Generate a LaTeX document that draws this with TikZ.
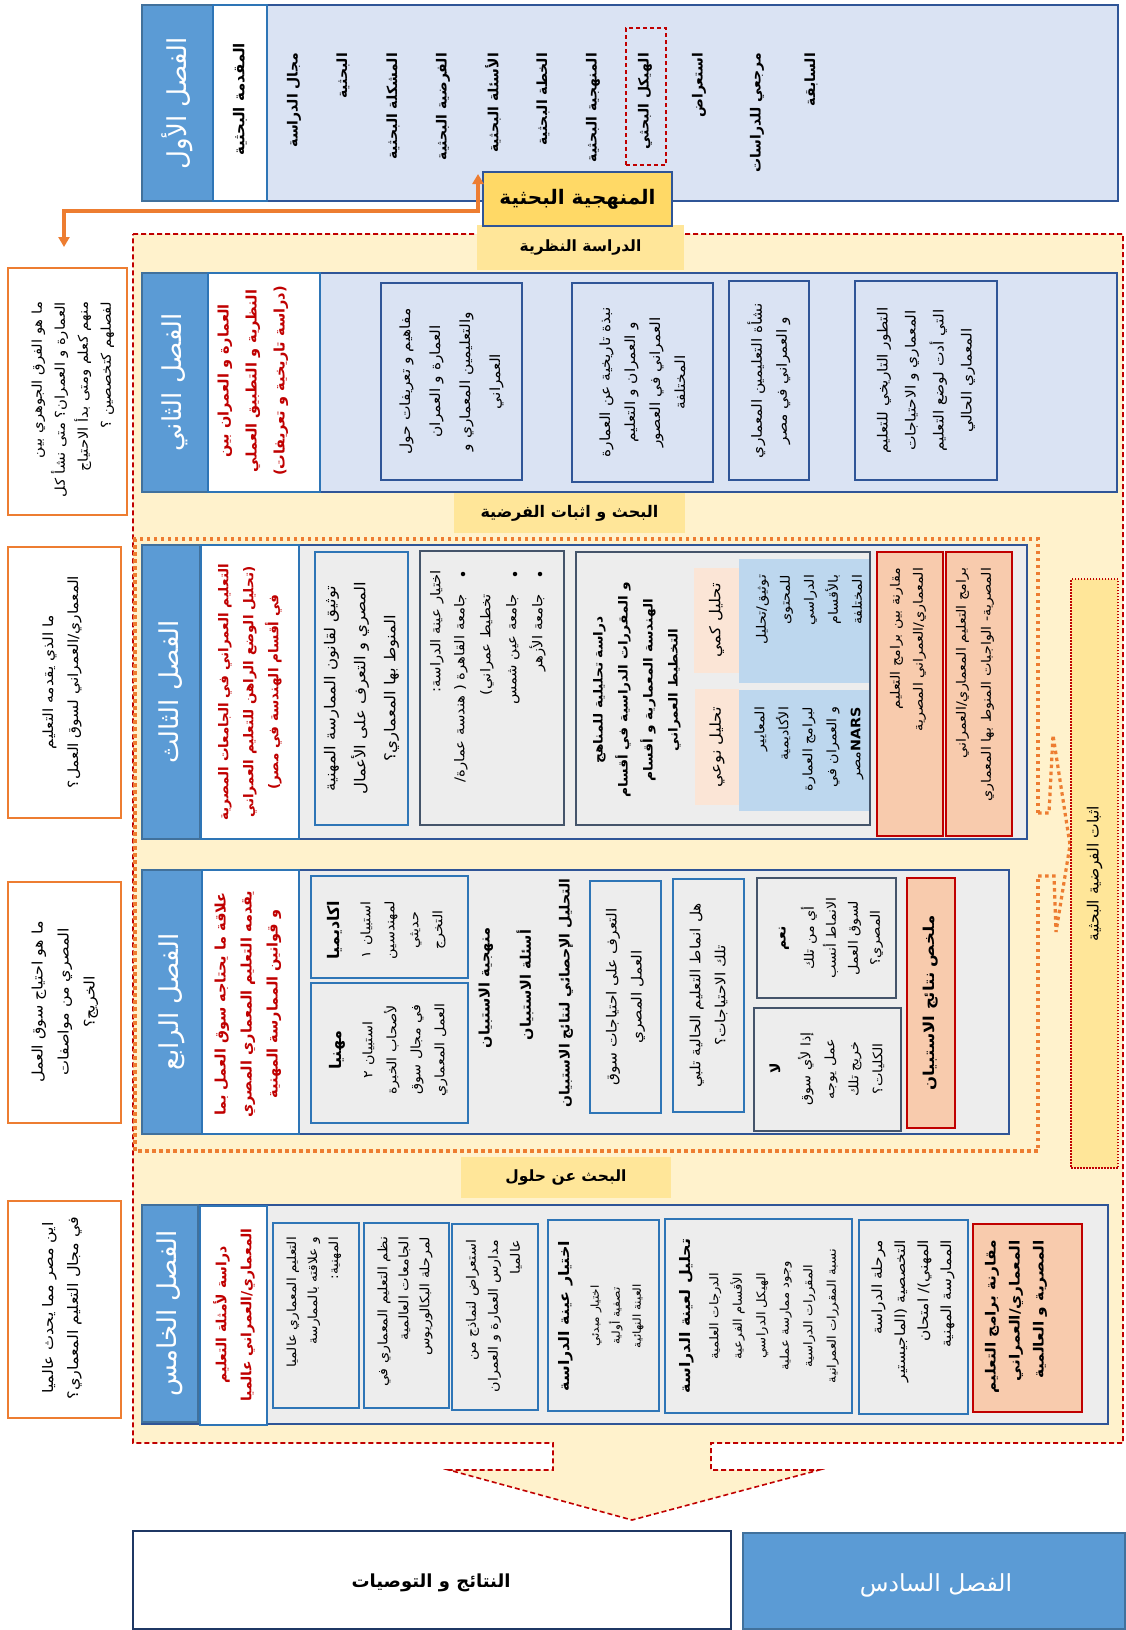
\documentclass[tikz,border=0pt]{standalone}
\usepackage{fontspec}
\usetikzlibrary{arrows.meta}
\TeXXeTstate=1
\newfontfamily\ar[Script=Arabic,FakeStretch=1.1]{DejaVu Sans}
\newfontfamily\arn[Script=Arabic]{DejaVu Sans}
\newcommand{\RL}[1]{\beginR #1\endR}
\newcommand{\fsz}[2]{\fontsize{#1}{#2}\selectfont}
\definecolor{hdr}{HTML}{5B9BD5}
\definecolor{hdrd}{HTML}{41719C}
\definecolor{lb}{HTML}{DAE3F3}
\definecolor{bd}{HTML}{2F5597}
\definecolor{bm}{HTML}{2E75B6}
\definecolor{sl}{HTML}{44546A}
\definecolor{gy}{HTML}{EDEDED}
\definecolor{pe}{HTML}{F8CBAD}
\definecolor{lpe}{HTML}{FBE5D6}
\definecolor{sky}{HTML}{BDD7EE}
\definecolor{rd}{HTML}{C00000}
\definecolor{yl}{HTML}{FFF2CC}
\definecolor{gd}{HTML}{FFE699}
\definecolor{gdd}{HTML}{FFD966}
\definecolor{og}{HTML}{ED7D31}
\definecolor{nv}{HTML}{1F3864}
\newcommand{\mybox}[6]{\node[#2,anchor=north west,inner sep=0pt,outer sep=0pt,minimum width=#5pt-#3pt,minimum height=#6pt-#4pt] (#1) at (#3,#4) {};}
\begin{document}
\begin{tikzpicture}[x=1pt,y=-1pt,
  tx/.style={rotate=90,inner sep=0pt,outer sep=0pt,align=center},
  ft/.style 2 args={font=\ar\fsz{#1}{#2}},
  ftb/.style 2 args={font=\ar\bfseries\fsz{#1}{#2}},
  fn/.style 2 args={font=\arn\fsz{#1}{#2}},
  fnb/.style 2 args={font=\arn\bfseries\fsz{#1}{#2}},
  hdrbox/.style={fill=hdr,draw=hdrd,line width=1.5pt},
  wcol/.style={fill=white,draw=bm,line width=1.2pt},
  ch1box/.style={fill=lb,draw=bd,line width=1.5pt},
  grbox/.style={fill=gy,draw=bd,line width=1.5pt},
  ibox/.style={draw=bm,line width=1.5pt},
  i2box/.style={draw=bd,line width=1.5pt},
  dbox/.style={draw=sl,line width=1.5pt},
  rbox/.style={fill=pe,draw=rd,line width=1.8pt},
  qbox/.style={fill=white,draw=og,line width=1.8pt},
  glabel/.style={fill=gd},
  htxt/.style={tx,text=white,font=\arn\fsz{26}{30}},
  rtxt/.style={tx,text=rd},
  item/.style={tx,anchor=east,font=\arn\bfseries\fsz{14}{18}},
  bullet/.style={circle,fill=black,inner sep=0pt,minimum size=4.5pt},
  odot/.style={og,line width=3.2pt,dash pattern=on 3.5pt off 3.5pt}
]
\useasboundingbox (0,0) rectangle (1126,1630);

% ---------- big yellow region with arrow ----------
\path[fill=yl,draw=rd,line width=1.6pt,dash pattern=on 5pt off 3pt]
 (133,234) -- (1123,234) -- (1123,1443) -- (711,1443) -- (711,1470) -- (819,1470)
 -- (632,1520) -- (449,1470) -- (553,1470) -- (553,1443) -- (133,1443) -- cycle;

% ---------- labels ----------
\mybox{lab1}{glabel}{477}{225}{684}{270}
\node[fnb={15.5}{18}] (lab1t) at (lab1.center) {\RL{الدراسة النظرية}};
\mybox{lab2}{glabel}{454}{493}{685}{533}
\node[fnb={16}{18}] (lab2t) at (lab2.center) {\RL{البحث و اثبات الفرضية}};
\mybox{lab3}{glabel}{461}{1157}{671}{1198}
\node[fnb={15.5}{18}] (lab3t) at (lab3.center) {\RL{البحث عن حلول}};

% ---------- orange dotted region ----------
\draw[odot] (1038,813) -- (1038,539) -- (135,539) -- (135,1151) -- (1038,1151) -- (1038,876);
\draw[odot] (1038,813) -- (1049,813) -- (1053,735) -- (1070,845) -- (1056,932) -- (1054,876) -- (1038,876);

% ---------- right strip ----------
\mybox{strip}{fill=gd,draw=rd,line width=1.6pt,dash pattern=on 1.5pt off 1.5pt}{1071}{579}{1118}{1168}
\node[tx,fn={15.5}{18}] (stript) at (strip.center) {\RL{اثبات الفرضية البحثية}};

% ---------- questions ----------
\mybox{q1}{qbox}{8}{268}{127}{515}
\node[tx,ft={13.5}{23},align=right,anchor=east] (q1t) at (73,302) {\RL{ما هو الفرق الجوهري بين}\\\RL{العمارة و العمران؟ متى نشأ كل}\\\RL{منهم كعلم ومتى بدأ الاحتياج}\\\RL{لفصلهم كتخصصين ؟}};
\mybox{q2}{qbox}{8}{547}{121}{818}
\node[tx,ft={14}{25}] (q2t) at (62,682) {\RL{ما الذي يقدمه التعليم}\\\RL{المعماري/العمراني لسوق العمل؟}};
\mybox{q3}{qbox}{8}{882}{121}{1123}
\node[tx,ft={14.5}{26}] (q3t) at (65,1002) {\RL{ما هو احتياج سوق العمل}\\\RL{المصري من مواصفات}\\\RL{الخريج؟}};
\mybox{q4}{qbox}{8}{1201}{121}{1418}
\node[tx,ft={14.5}{25}] (q4t) at (62,1308) {\RL{اين مصر مما يحدث عالميا}\\\RL{في مجال التعليم المعماري؟}};

% ---------- chapter 1 ----------
\mybox{c1}{ch1box}{142}{5}{1118}{201}
\mybox{c1h}{hdrbox}{142}{5}{213}{201}
\mybox{c1w}{wcol}{213}{5}{267}{201}
\node[htxt] (c1ht) at (c1h.center) {\RL{الفصل الأول}};
\node[item,font=\arn\bfseries\fsz{15}{18}] (c1wt) at (240,43) {\RL{المقدمة البحثية}};
\node[item] (i1) at (294,53) {\RL{مجال الدراسة}};
\node[item] (i2) at (343,53) {\RL{البحثية}};
\node[item] (i3) at (393,53) {\RL{المشكلة البحثية}};
\node[item] (i4) at (443,53) {\RL{الفرضية البحثية}};
\node[item] (i5) at (493,53) {\RL{الأسئلة البحثية}};
\node[item] (i6) at (543,53) {\RL{الخطة البحثية}};
\node[item] (i7) at (593,53) {\RL{المنهجية البحثية}};
\node[item] (i8) at (645,53) {\RL{الهيكل البحثي}};
\node[item] (i9) at (699,53) {\RL{استعراض}};
\node[item] (i10) at (757,53) {\RL{مرجعي للدراسات}};
\node[item] (i11) at (811,53) {\RL{السابقة}};
\mybox{hk}{draw=rd,line width=1.5pt,dash pattern=on 4pt off 3pt}{626}{28}{666}{165}
\mybox{mn}{fill=gdd,draw=bd,line width=1.5pt}{483}{172}{672}{226}
\node[fnb={20}{24}] (mnt) at (mn.center) {\RL{المنهجية البحثية}};
\coordinate (a1) at (478,174);
\coordinate (a2) at (64,247);
\draw[og,line width=3.5pt,{Triangle[length=10pt,width=11pt]}-{Triangle[length=10pt,width=11pt]}] (a1) -- ++(0,37) -| (a2);

% ---------- chapter 2 ----------
\mybox{c2}{ch1box}{142}{273}{1117}{492}
\mybox{c2h}{hdrbox}{142}{273}{208}{492}
\mybox{c2w}{wcol}{208}{273}{320}{492}
\node[htxt] (c2ht) at (c2h.center) {\RL{الفصل الثاني}};
\node[rtxt,fnb={14.5}{28}] (c2wt) at (253,381) {\RL{العمارة و العمران بين}\\\RL{النظرية و التطبيق العملي}\\\RL{(دراسة تاريخية و تعريفات)}};
\mybox{c2a}{i2box}{381}{283}{522}{480}
\node[tx,ft={14}{30}] (c2at) at (c2a.center) {\RL{مفاهيم و تعريفات حول}\\\RL{العمارة و العمران}\\\RL{والتعليمين المعماري و}\\\RL{العمراني}};
\mybox{c2b}{i2box}{572}{283}{713}{482}
\node[tx,ft={14}{25}] (c2bt) at (c2b.center) {\RL{نبذة تاريخية عن العمارة}\\\RL{و العمران و التعليم}\\\RL{العمراني في العصور}\\\RL{المختلفة}};
\mybox{c2c}{i2box}{729}{281}{809}{480}
\node[tx,ft={14}{25}] (c2ct) at (c2c.center) {\RL{نشأة التعليمين المعماري}\\\RL{و العمراني في مصر}};
\mybox{c2d}{i2box}{855}{281}{997}{480}
\node[tx,ft={14}{28}] (c2dt) at (c2d.center) {\RL{التطور التاريخي للتعليم}\\\RL{المعماري و الاحتياجات}\\\RL{التي أدت لوضع التعليم}\\\RL{المعماري الحالي}};

% ---------- chapter 3 ----------
\mybox{c3}{grbox}{142}{545}{1027}{839}
\mybox{c3h}{hdrbox}{142}{545}{200}{839}
\mybox{c3w}{wcol}{201}{545}{299}{839}
\node[htxt] (c3ht) at (c3h.center) {\RL{الفصل الثالث}};
\node[rtxt,fnb={13.5}{25}] (c3wt) at (250,692) {\RL{التعليم العمراني في الجامعات المصرية}\\\RL{(تحليل الوضع الراهن للتعليم العمراني}\\\RL{في أقسام الهندسة في مصر)}};
\mybox{c3a}{ibox}{315}{552}{408}{825}
\node[tx,ft={15}{30}] (c3at) at (c3a.center) {\RL{توثيق لقانون الممارسة المهنية}\\\RL{المصري و التعرف على الأعمال}\\\RL{المنوط بها المعماري؟}};
\mybox{c3b}{dbox}{420}{551}{564}{825}
\node[tx,ft={13.5}{26},anchor=east] (c3b1) at (437,570) {\RL{اختيار عينة الدراسة:}};
\node[tx,ft={13.5}{26},align=right,anchor=east] (c3b2) at (500,594) {\RL{جامعة القاهرة ( هندسة عمارة/}\\\RL{تخطيط عمراني)}\\\RL{جامعة عين شمس}\\\RL{جامعة الأزهر}};
\node[bullet] (bu1) at (463,574) {};
\node[bullet] (bu2) at (515,574) {};
\node[bullet] (bu3) at (540,574) {};
\mybox{c3c}{dbox}{576}{552}{870}{825}
\node[tx,ftb={12.5}{25}] (c3ct) at (637,690) {\RL{دراسة تحليلية للمناهج}\\\RL{و المقررات الدراسية في أقسام}\\\RL{الهندسة المعمارية و أقسام}\\\RL{التخطيط العمراني}};
\mybox{c3k}{fill=lpe}{694}{568}{739}{673}
\node[tx,ft={15}{18}] (c3kt) at (c3k.center) {\RL{تحليل كمي}};
\mybox{c3n}{fill=lpe}{695}{689}{739}{805}
\node[tx,ft={15}{18}] (c3nt) at (c3n.center) {\RL{تحليل نوعي}};
\mybox{c3s}{fill=sky}{739}{559}{869}{683}
\node[tx,ft={13}{24},align=right,anchor=east] (c3st) at (809,575) {\RL{توثيق/تحليل}\\\RL{للمحتوى}\\\RL{الدراسي}\\\RL{بالأقسام}\\\RL{المختلفة}};
\mybox{c3t}{fill=sky}{739}{690}{869}{811}
\node[tx,ft={13}{24},align=right,anchor=east] (c3tt) at (809,707) {\RL{المعايير}\\\RL{الأكاديمية}\\\RL{لبرامج العمارة}\\\RL{و العمران في}\\\RL{\beginL\textbf{NARS}\endL مصر}};
\mybox{c3d}{rbox}{877}{552}{943}{836}
\node[tx,ft={13}{23},align=right,anchor=east] (c3dt) at (908,568) {\RL{مقارنة بين برامج التعليم}\\\RL{المعماري/العمراني المصرية}};
\mybox{c3e}{rbox}{946}{552}{1012}{836}
\node[tx,ft={13}{25},align=right,anchor=east] (c3et) at (975,568) {\RL{برامج التعليم المعماري/العمراني}\\\RL{المصرية- الواجبات المنوط بها المعماري}};

% ---------- chapter 4 ----------
\mybox{c4}{grbox}{142}{870}{1009}{1134}
\mybox{c4h}{hdrbox}{142}{870}{202}{1134}
\mybox{c4w}{wcol}{202}{870}{299}{1134}
\node[htxt] (c4ht) at (c4h.center) {\RL{الفصل الرابع}};
\node[rtxt,fnb={14.5}{26}] (c4wt) at (248,1004) {\RL{علاقة ما يحتاجه سوق العمل بما}\\\RL{يقدمه التعليم المعماري المصري}\\\RL{و قوانين الممارسة المهنية}};
\mybox{c4a}{ibox}{311}{876}{468}{978}
\node[tx,fnb={16}{20}] (c4a1) at (335,930) {\RL{اكاديميا}};
\node[tx,ft={13}{24}] (c4a2) at (403,930) {\RL{استبيان ١}\\\RL{لمهندسين}\\\RL{حديثي}\\\RL{التخرج}};
\mybox{c4b}{ibox}{311}{983}{468}{1123}
\node[tx,fnb={16}{20}] (c4b1) at (337,1050) {\RL{مهنيا}};
\node[tx,ft={13}{24}] (c4b2) at (405,1050) {\RL{استبيان ٢}\\\RL{لأصحاب الخبرة}\\\RL{في مجال سوق}\\\RL{العمل المعماري}};
\node[tx,fnb={14.5}{18}] (c4m1) at (486,988) {\RL{منهجية الاستبيان}};
\node[tx,fnb={14.5}{18}] (c4m2) at (525,985) {\RL{أسئلة الاستبيان}};
\node[tx,fnb={14}{18}] (c4m3) at (566,993) {\RL{التحليل الإحصائي لنتائج الاستبيان}};
\mybox{c4c}{ibox}{590}{881}{661}{1113}
\node[tx,ft={14}{25}] (c4ct) at (c4c.center) {\RL{التعرف على احتياجات سوق}\\\RL{العمل المصري}};
\mybox{c4d}{ibox}{673}{879}{744}{1112}
\node[tx,ft={14}{25}] (c4dt) at (c4d.center) {\RL{هل انماط التعليم الحالية تلبي}\\\RL{تلك الاحتياجات؟}};
\mybox{c4e}{dbox}{757}{878}{896}{998}
\node[tx,fnb={14}{18}] (c4e1) at (784,938) {\RL{نعم}};
\node[tx,ft={13}{22}] (c4e2) at (842,938) {\RL{أي من تلك}\\\RL{الانماط أنسب}\\\RL{لسوق العمل}\\\RL{المصري؟}};
\mybox{c4f}{dbox}{754}{1008}{901}{1131}
\node[tx,fnb={14}{18}] (c4f1) at (775,1068) {\RL{لا}};
\node[tx,ft={13}{24}] (c4f2) at (841,1069) {\RL{إذا لأي سوق}\\\RL{عمل يوجه}\\\RL{خريج تلك}\\\RL{الكليات؟}};
\mybox{c4g}{rbox}{907}{878}{955}{1128}
\node[tx,ftb={15}{18}] (c4gt) at (c4g.center) {\RL{ملخص نتائج الاستبيان}};

% ---------- chapter 5 ----------
\mybox{c5}{grbox}{142}{1205}{1108}{1424}
\mybox{c5h}{hdrbox}{142}{1205}{198}{1422}
\mybox{c5w}{wcol}{200}{1206}{267}{1425}
\node[htxt] (c5ht) at (c5h.center) {\RL{الفصل الخامس}};
\node[rtxt,fnb={14}{25}] (c5wt) at (234,1315) {\RL{دراسة لأمثلة التعليم}\\\RL{المعماري/العمراني عالميا}};
\mybox{c5a}{ibox}{273}{1223}{359}{1408}
\node[tx,ft={12.5}{21},align=right,anchor=east] (c5at) at (314,1237) {\RL{التعليم المعماري عالميا}\\\RL{و علاقته بالممارسة}\\\RL{المهنية:}};
\mybox{c5b}{ibox}{364}{1223}{449}{1408}
\node[tx,ft={13}{21},align=right,anchor=east] (c5bt) at (405,1237) {\RL{نظم التعليم المعماري في}\\\RL{الجامعات العالمية}\\\RL{لمرحلة البكالوريوس}};
\mybox{c5c}{ibox}{452}{1224}{538}{1410}
\node[tx,ft={13}{22},align=right,anchor=east] (c5ct) at (494,1240) {\RL{استعراض لنماذج من}\\\RL{مدارس العمارة و العمران}\\\RL{عالميا}};
\mybox{c5d}{ibox}{548}{1220}{659}{1411}
\node[tx,ftb={14.5}{18}] (c5d1) at (566,1316) {\RL{اختيار عينة الدراسة}};
\node[tx,ft={11}{21}] (c5d2) at (617,1316) {\RL{اختيار مبدئي}\\\RL{تصفية أولية}\\\RL{العينة النهائية}};
\mybox{c5e}{ibox}{665}{1219}{852}{1413}
\node[tx,ftb={14.5}{18}] (c5e1) at (687,1316) {\RL{تحليل لعينة الدراسة}};
\node[tx,ft={12}{23.5}] (c5e2) at (774,1316) {\RL{الدرجات العلمية}\\\RL{الأقسام الفرعية}\\\RL{الهيكل الدراسي}\\\RL{وجود ممارسة عملية}\\\RL{المقررات الدراسية}\\\RL{نسبة المقررات العمرانية}};
\mybox{c5f}{ibox}{859}{1220}{968}{1414}
\node[tx,ft={14}{23},align=right,anchor=east] (c5ft) at (913,1240) {\RL{مرحلة الدراسة}\\\RL{التخصصية (الماجيستير}\\\RL{المهني)/ امتحان}\\\RL{الممارسة المهنية}};
\mybox{c5g}{rbox}{973}{1224}{1082}{1412}
\node[tx,ftb={14}{24},align=right,anchor=east] (c5gt) at (1016,1240) {\RL{مقارنة برامج التعليم}\\\RL{المعماري/العمراني}\\\RL{المصرية و العالمية}};

% ---------- chapter 6 ----------
\mybox{res}{fill=white,draw=nv,line width=1.6pt}{133}{1531}{731}{1629}
\node[fnb={18}{22}] (rest) at (431,1583) {\RL{النتائج و التوصيات}};
\mybox{c6}{hdrbox}{743}{1533}{1125}{1629}
\node[text=white,fn={23.5}{26}] (c6t) at (936,1585) {\RL{الفصل السادس}};
\end{tikzpicture}
\end{document}
